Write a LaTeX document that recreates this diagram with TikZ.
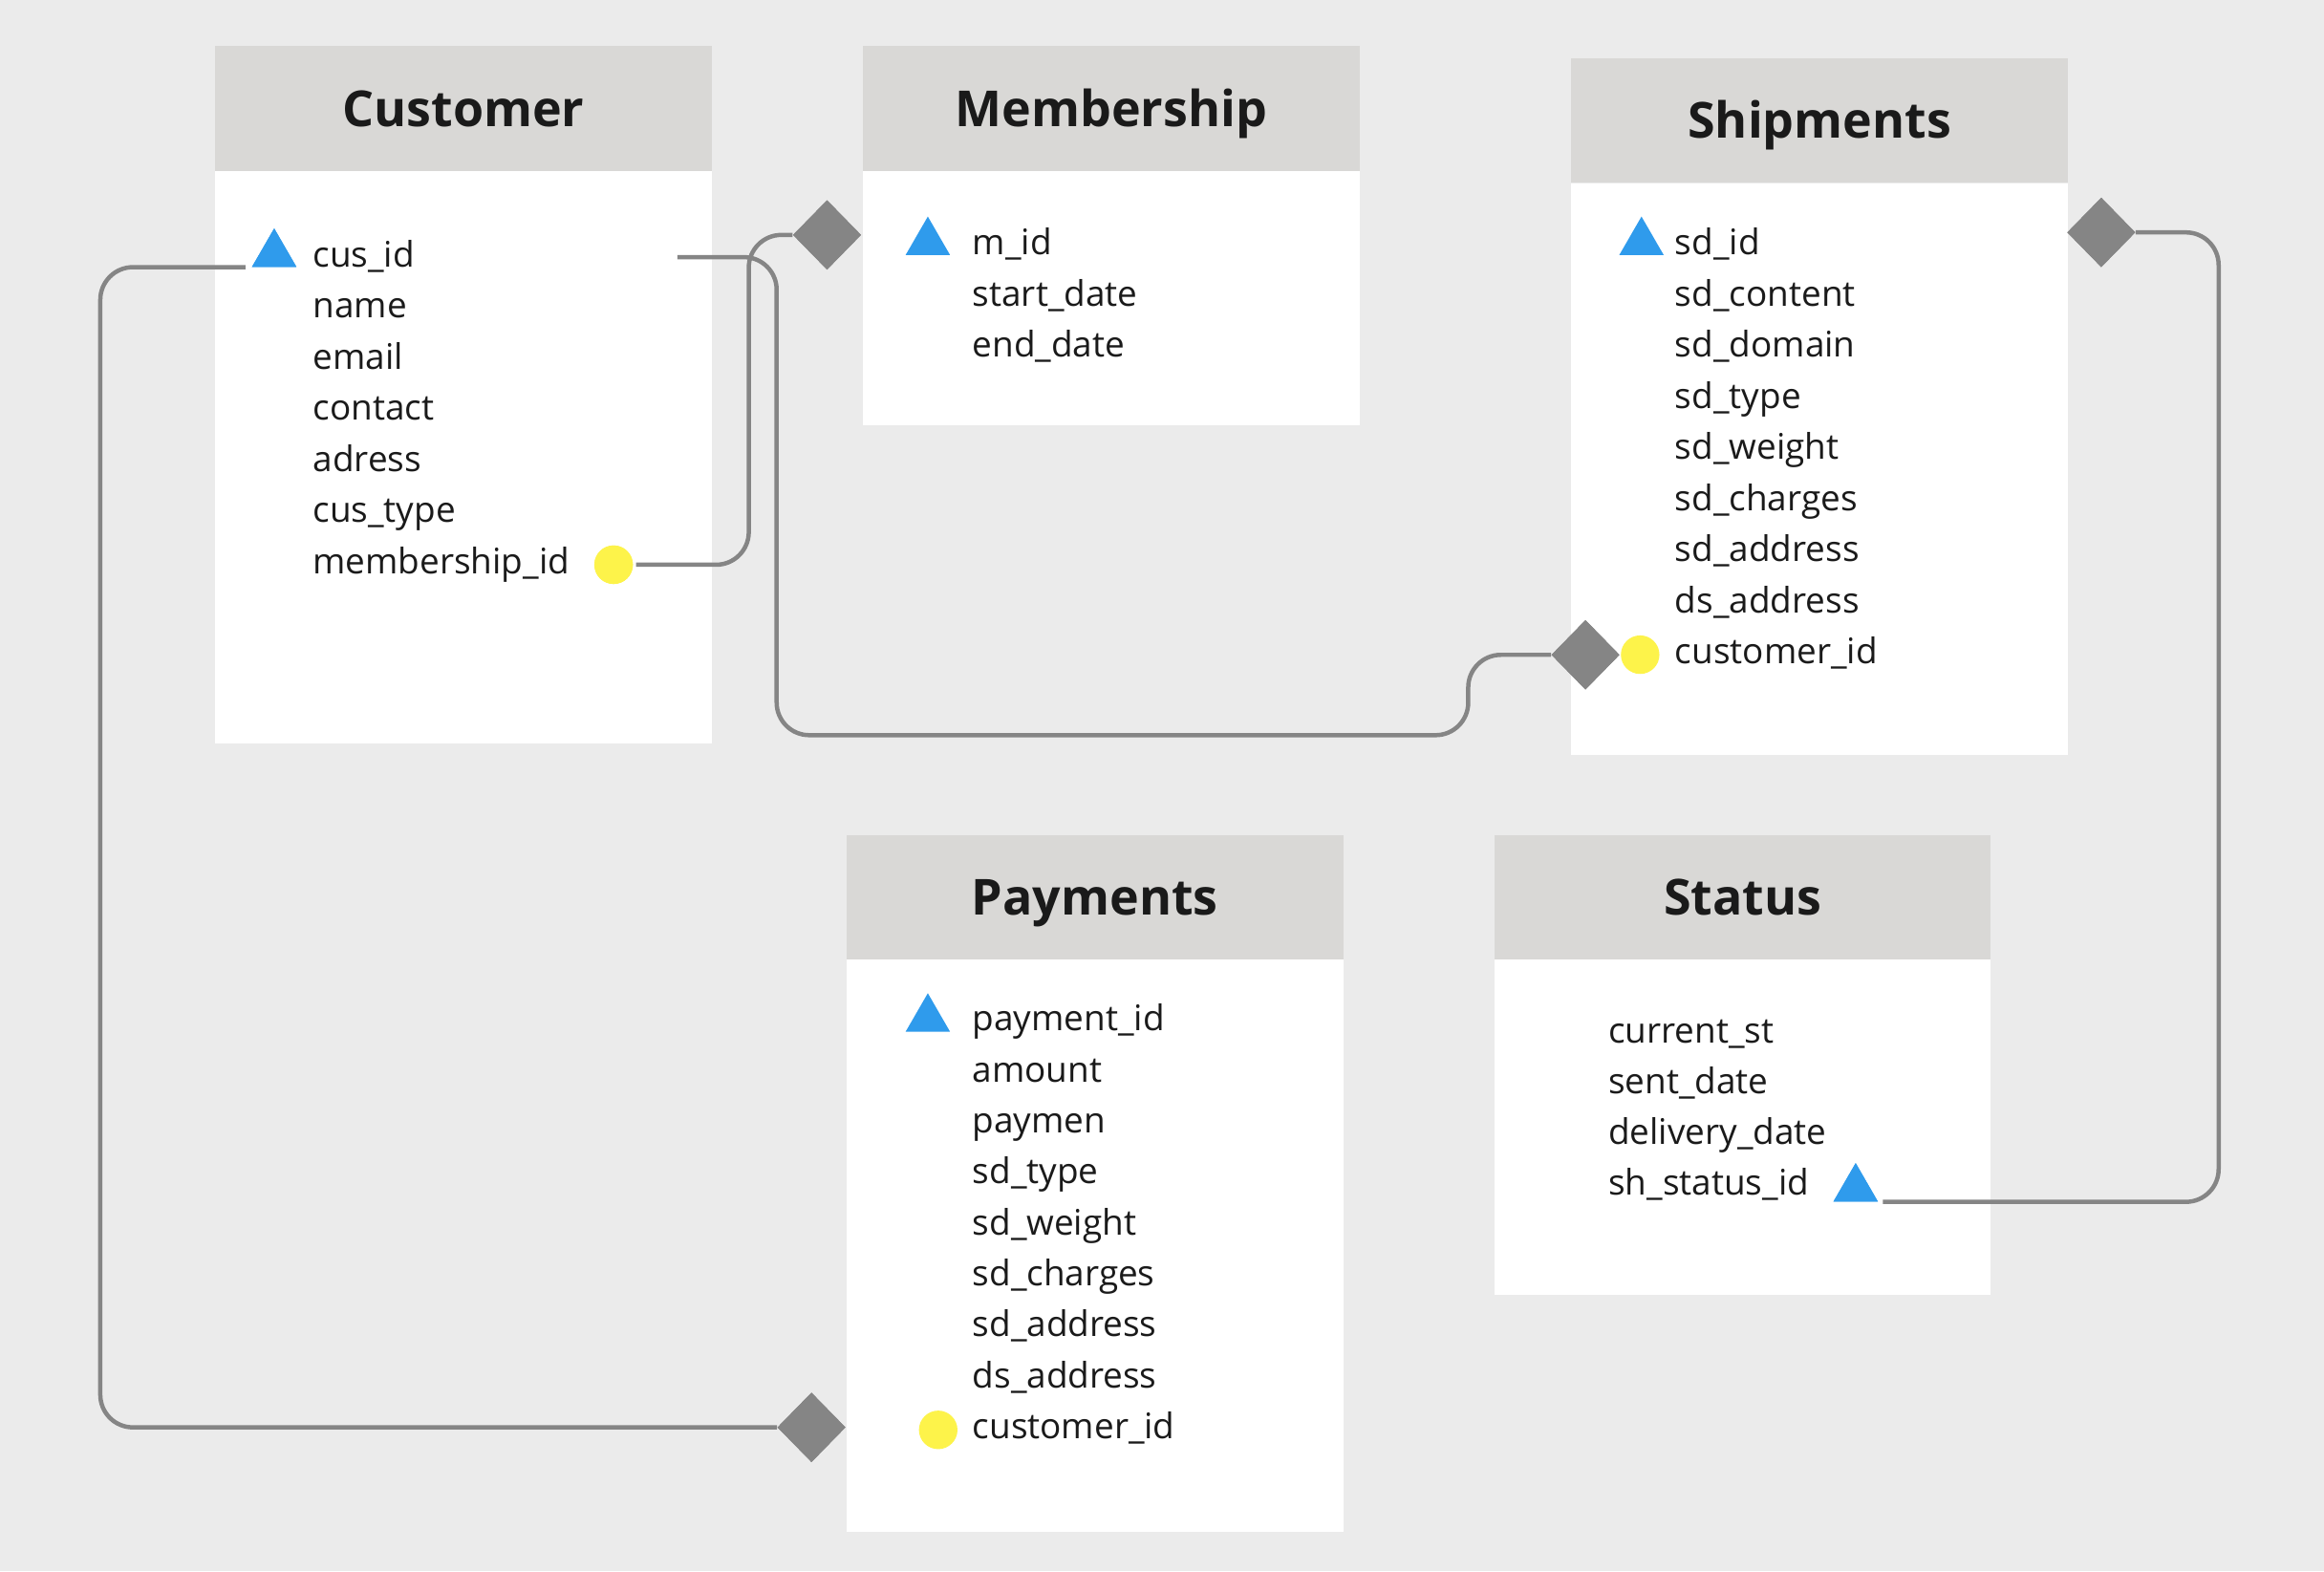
\documentclass[tikz,border=0pt]{standalone}
\usepackage{fontspec}
\setmainfont{Open Sans}
\usetikzlibrary{positioning, shapes.geometric}

\definecolor{bggray}{HTML}{EBEBEB}
\definecolor{headgray}{HTML}{D9D8D6}
\definecolor{linkgray}{HTML}{858585}
\definecolor{keyblue}{HTML}{2F9BEC}
\definecolor{fkyellow}{HTML}{FDF34A}
\definecolor{inkblack}{HTML}{1A1A1A}

\begin{document}
\begin{tikzpicture}[
        x=1pt, y=-1pt,
        head/.style={fill=headgray, minimum width=335pt, minimum height=84pt, inner sep=0pt, text height=24pt, text depth=0pt, text=inkblack, font=\bfseries\fontsize{33.5}{40}\selectfont},
        tbody/.style={fill=white, minimum width=335pt, inner sep=0pt},
        field/.style={anchor=base west, inner sep=0pt, text=inkblack, font=\fontsize{23.8}{28}\selectfont},
        pkey/.style={regular polygon, regular polygon sides=3, fill=keyblue, minimum size=34.6pt, inner sep=0pt},
        fkey/.style={circle, fill=fkyellow, minimum size=26pt, inner sep=0pt},
        endmark/.style={diamond, fill=linkgray, minimum width=46pt, minimum height=47pt, inner sep=0pt},
        link/.style={draw=linkgray, line width=2.9pt, rounded corners=22pt}
    ]

    \fill[bggray] (0,0) rectangle (1568,1060);

    % tables
    \node[head, anchor=north west] (custhead) at (145,31) {Customer};
    \node[tbody, minimum height=386pt, below=0pt of custhead] (custbody) {};
    \node[head, anchor=north west] (memhead) at (582,31) {Membership};
    \node[tbody, minimum height=171pt, below=0pt of memhead] (membody) {};
    \node[head, anchor=north west] (shiphead) at (1060,39) {Shipments};
    \node[tbody, minimum height=386pt, below=0pt of shiphead] (shipbody) {};
    \node[head, anchor=north west] (payhead) at (571,563) {Payments};
    \node[tbody, minimum height=386pt, below=0pt of payhead] (paybody) {};
    \node[head, anchor=north west] (stathead) at (1008,563) {Status};
    \node[tbody, minimum height=226pt, below=0pt of stathead] (statbody) {};

    % Customer fields
    \node[field] (cusid) at (211,180) {cus\_id};
    \node[field] (cusname) at (211,214.5) {name};
    \node[field] (cusmail) at (211,249) {email};
    \node[field] (cuscontact) at (211,283.5) {contact};
    \node[field] (cusadress) at (211,318) {adress};
    \node[field] (custype) at (211,352.5) {cus\_type};
    \node[field] (cusmem) at (211,387) {membership\_id};

    % Membership fields
    \node[field] (mid) at (656,172) {m\_id};
    \node[field] (memstart) at (656,206.5) {start\_date};
    \node[field] (memend) at (656,241) {end\_date};

    % Shipments fields
    \node[field] (sdid) at (1130,172) {sd\_id};
    \node[field] (sdcontent) at (1130,206.5) {sd\_content};
    \node[field] (sddomain) at (1130,241) {sd\_domain};
    \node[field] (sdtype) at (1130,275.5) {sd\_type};
    \node[field] (sdweight) at (1130,310) {sd\_weight};
    \node[field] (sdcharges) at (1130,344.5) {sd\_charges};
    \node[field] (sdaddress) at (1130,379) {sd\_address};
    \node[field] (dsaddress) at (1130,413.5) {ds\_address};
    \node[field] (shipcus) at (1130,448) {customer\_id};

    % Payments fields
    \node[field] (payid) at (656,695.5) {payment\_id};
    \node[field] (payamount) at (656,729.9) {amount};
    \node[field] (paymen) at (656,764.3) {paymen};
    \node[field] (paytype) at (656,798.7) {sd\_type};
    \node[field] (payweight) at (656,833.1) {sd\_weight};
    \node[field] (paycharges) at (656,867.5) {sd\_charges};
    \node[field] (payaddress) at (656,901.9) {sd\_address};
    \node[field] (payds) at (656,936.3) {ds\_address};
    \node[field] (paycus) at (656,970.7) {customer\_id};

    % Status fields
    \node[field] (statcur) at (1085,704) {current\_st};
    \node[field] (statsent) at (1085,738) {sent\_date};
    \node[field] (statdel) at (1085,772) {delivery\_date};
    \node[field] (statid) at (1085,806) {sh\_status\_id};

    % key markers
    \node[pkey] (custpk) at (185,171.4) {};
    \node[fkey] (custfk) at (414,381) {};
    \node[pkey] (mempk) at (626,163.4) {};
    \node[pkey] (shippk) at (1107.5,163.4) {};
    \node[fkey] (shipfk) at (1106.6,441.7) {};
    \node[pkey] (paypk) at (626,687.4) {};
    \node[fkey] (payfk) at (633,964.7) {};
    \node[pkey] (statpk) at (1252,802) {};

    % relations
    \coordinate (cusout) at (457,173.5);
    \node[endmark] (memdia) at (558,158.5) {};
    \node[endmark] (shipdia) at (1069.7,441.8) {};
    \node[endmark] (shipdia2) at (1417.7,156.8) {};
    \node[endmark] (paydia) at (547.5,963) {};

    \draw[link] (cusout) -| (524,496) -| (990.6,441.8) -- (shipdia.west);
    \draw[link] ([xshift=2pt]custfk.east) -- ++(76,0) |- (memdia.west);
    \draw[link] ([xshift=-4pt]custpk.corner 2) -- ++(-98,0) |- (paydia.west);
    \draw[link] (shipdia2.east) -- ++(56,0) |- ([xshift=3pt]statpk.corner 3);

    % redraw end marks over the lines
    \node[endmark] at (memdia) {};
    \node[endmark] at (shipdia) {};
    \node[endmark] at (shipdia2) {};
    \node[endmark] at (paydia) {};
    \node[pkey] at (custpk) {};
    \node[fkey] at (custfk) {};
    \node[pkey] at (statpk) {};

\end{tikzpicture}
\end{document}
